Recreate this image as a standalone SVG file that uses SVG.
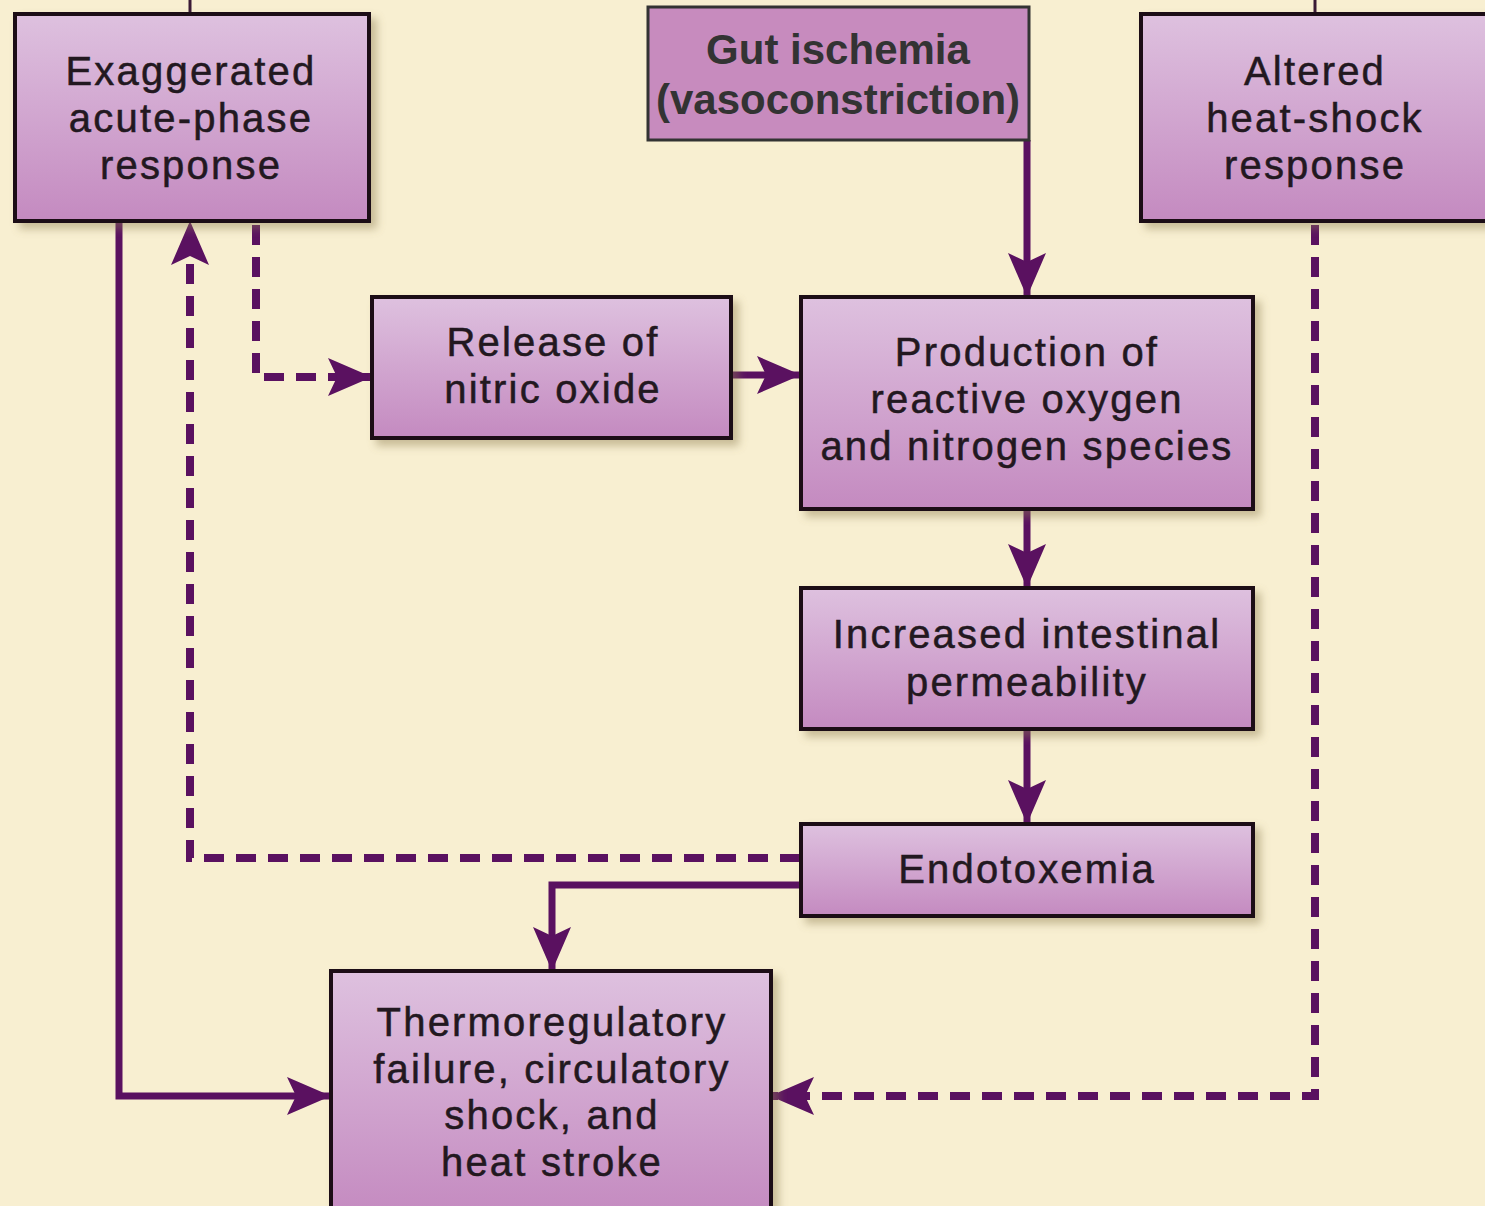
<svg xmlns="http://www.w3.org/2000/svg" width="1485" height="1206" viewBox="0 0 1485 1206">
<style>
.box{fill:url(#boxgrad);stroke:#1a0f16;stroke-width:4;filter:url(#shadow)}
.txt{font-family:"Liberation Sans",Arial,sans-serif;font-size:40px;letter-spacing:2.2px;fill:#221820;stroke:#221820;stroke-width:0.5;text-anchor:middle}
.bold{font-family:"Liberation Sans",Arial,sans-serif;font-size:42px;font-weight:bold;fill:#333333;text-anchor:middle}
.line{fill:none;stroke:#5a1160;stroke-width:7}
.dash{fill:none;stroke:#5a1160;stroke-width:8;stroke-dasharray:20 12}
.stub{fill:none;stroke:#3a1a36;stroke-width:3}
</style>
<defs>
<linearGradient id="boxgrad" x1="0" y1="0" x2="0" y2="1">
<stop offset="0" stop-color="#dec1df"/>
<stop offset="1" stop-color="#c48ac0"/>
</linearGradient>
<filter id="shadow" x="-10%" y="-10%" width="125%" height="130%">
<feDropShadow dx="6" dy="6" stdDeviation="4" flood-color="#8c7a4e" flood-opacity="0.45"/>
</filter>
<marker id="arrow" markerUnits="userSpaceOnUse" viewBox="0 0 44 38" markerWidth="44" markerHeight="38" refX="43" refY="19" orient="auto">
<path d="M0,0 L44,19 L0,38 L9,19 z" fill="#5a1160"/>
</marker>
</defs>
<rect width="1485" height="1206" fill="#f8efd1"/>
<g id="connectors">
<path class="stub" d="M190,0 V13"/>
<path class="stub" d="M1315,0 V13"/>
<path class="line" d="M1027,140 V296" marker-end="url(#arrow)"/>
<path class="line" d="M731,375 H800" marker-end="url(#arrow)"/>
<path class="line" d="M1027,509 V587" marker-end="url(#arrow)"/>
<path class="line" d="M1027,729 V823" marker-end="url(#arrow)"/>
<path class="line" d="M800,885 H552 V970" marker-end="url(#arrow)"/>
<path class="line" d="M119,221 V1096 H330" marker-end="url(#arrow)"/>
<path class="dash" d="M256,225 V377 H371" marker-end="url(#arrow)"/>
<path class="dash" d="M800,858 H190 V222" marker-end="url(#arrow)"/>
<path class="dash" d="M1315,225 V1096 H771" marker-end="url(#arrow)"/>
</g>
<g id="node-exaggerated">
<rect class="box" x="15" y="14" width="354" height="207"/>
<text class="txt" x="191" y="85">Exaggerated</text>
<text class="txt" x="191" y="132">acute-phase</text>
<text class="txt" x="191" y="179">response</text>
</g>
<g id="node-gut">
<rect x="648" y="7" width="381" height="133" fill="#c78bbe" stroke="#333333" stroke-width="3"/>
<text class="bold" x="838" y="64">Gut ischemia</text>
<text class="bold" x="838" y="114">(vasoconstriction)</text>
</g>
<g id="node-altered">
<rect class="box" x="1141" y="14" width="350" height="207"/>
<text class="txt" x="1315" y="85">Altered</text>
<text class="txt" x="1315" y="132">heat-shock</text>
<text class="txt" x="1315" y="179">response</text>
</g>
<g id="node-release">
<rect class="box" x="372" y="297" width="359" height="141"/>
<text class="txt" x="553" y="356">Release of</text>
<text class="txt" x="553" y="403">nitric oxide</text>
</g>
<g id="node-production">
<rect class="box" x="801" y="297" width="452" height="212"/>
<text class="txt" x="1027" y="366">Production of</text>
<text class="txt" x="1027" y="413">reactive oxygen</text>
<text class="txt" x="1027" y="460">and nitrogen species</text>
</g>
<g id="node-increased">
<rect class="box" x="801" y="588" width="452" height="141"/>
<text class="txt" x="1027" y="648">Increased intestinal</text>
<text class="txt" x="1027" y="696">permeability</text>
</g>
<g id="node-endotoxemia">
<rect class="box" x="801" y="824" width="452" height="92"/>
<text class="txt" x="1027" y="883">Endotoxemia</text>
</g>
<g id="node-thermo">
<rect class="box" x="331" y="971" width="440" height="245"/>
<text class="txt" x="552" y="1036">Thermoregulatory</text>
<text class="txt" x="552" y="1083">failure, circulatory</text>
<text class="txt" x="552" y="1129">shock, and</text>
<text class="txt" x="552" y="1176">heat stroke</text>
</g>
</svg>
